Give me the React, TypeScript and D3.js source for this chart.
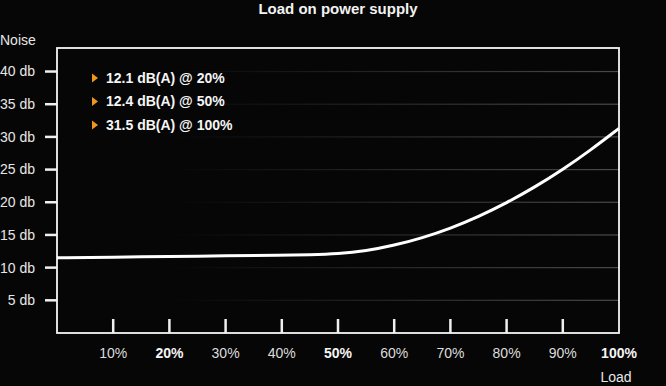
import * as d3 from "d3";

const loads = [0, 10, 20, 30, 40, 45, 50, 55, 60, 65, 70, 75, 80, 85, 90, 95, 100];
const noise = [11.5, 11.6, 11.7, 11.8, 11.9, 11.97, 12.1, 12.55, 13.4, 14.55, 16.0, 17.8, 19.9, 22.3, 25.0, 28.0, 31.3];
const xTicks = [10, 20, 30, 40, 50, 60, 70, 80, 90, 100];
const boldTicks = [20, 50, 100];
const yTicks = [5, 10, 15, 20, 25, 30, 35, 40];
const legendItems = ["12.1 dB(A) @ 20%", "12.4 dB(A) @ 50%", "31.5 dB(A) @ 100%"];

const W = 666;
const H = 386;
const MARGIN = { top: 48, right: 47, bottom: 53, left: 57 };
const FONT = "'Liberation Sans', Arial, Helvetica, sans-serif";

export default function App() {
  const x = d3.scaleLinear().domain([0, 100]).range([MARGIN.left, W - MARGIN.right]);
  const y = d3.scaleLinear().domain([0, 43.6]).range([H - MARGIN.bottom, MARGIN.top]);

  const line = d3
    .line<number>()
    .x((d, i) => x(loads[i]))
    .y((d) => y(d))
    .curve(d3.curveBasis);

  const x0 = MARGIN.left;
  const x1 = W - MARGIN.right;
  const y0 = H - MARGIN.bottom;
  const y1 = MARGIN.top;

  return (
    <svg
      width={W}
      height={H}
      style={{ position: "absolute", left: 0, top: 0, background: "#060606" }}
      fontFamily={FONT}
    >
      <defs>
        <linearGradient id="gridFade" x1="0" x2="1" y1="0" y2="0">
          <stop offset="0%" stopColor="#444" stopOpacity={0} />
          <stop offset="20%" stopColor="#444" stopOpacity={0} />
          <stop offset="100%" stopColor="#4a4a4a" stopOpacity={1} />
        </linearGradient>
      </defs>
      <rect width={W} height={H} fill="#060606" />

      <text x={W / 2 + 5} y={14} textAnchor="middle" fontSize={15} fontWeight={700} fill="#f2f2f2">
        Load on power supply
      </text>

      {/* grid */}
      {yTicks.map((t) => (
        <rect key={t} x={x0} y={y(t) - 0.6} width={x1 - x0} height={1.2} fill="url(#gridFade)" />
      ))}

      {/* y axis ticks */}
      {yTicks.map((t) => (
        <g key={"y" + t}>
          <line x1={x0 - 12} x2={x0} y1={y(t)} y2={y(t)} stroke="#f0f0f0" strokeWidth={2.5} />
          <text x={35} y={y(t)} dy="0.35em" textAnchor="end" fontSize={14} fill="#e6e6e6">
            {t} db
          </text>
        </g>
      ))}
      <text x={0} y={40} dy="0.35em" fontSize={14} fill="#e6e6e6">
        Noise
      </text>

      {/* x axis ticks */}
      {xTicks.map((t) => (
        <g key={"x" + t}>
          {t < 100 && <line x1={x(t)} x2={x(t)} y1={y0 - 14} y2={y0} stroke="#f0f0f0" strokeWidth={2.5} />}
          <text
            x={x(t)}
            y={353}
            dy="0.35em"
            textAnchor="middle"
            fontSize={14}
            fontWeight={boldTicks.includes(t) ? 700 : 400}
            fill={boldTicks.includes(t) ? "#f5f5f5" : "#dcdcdc"}
          >
            {t}%
          </text>
        </g>
      ))}
      <text x={616} y={377} dy="0.35em" textAnchor="middle" fontSize={14} fill="#e6e6e6">
        Load
      </text>

      {/* frame */}
      <rect x={x0} y={y1} width={x1 - x0} height={y0 - y1} fill="none" stroke="#f5f5f5" strokeWidth={1.8} />

      {/* curve */}
      <path d={line(noise) ?? ""} fill="none" stroke="#ffffff" strokeWidth={3} />

      {/* legend */}
      {legendItems.map((s, i) => (
        <g key={s} transform={`translate(92,${78 + i * 23.5})`}>
          <path d="M0,-4.5 L6,0 L0,4.5 Z" fill="#f0961e" />
          <text x={14} y={0} dy="0.35em" fontSize={14} fontWeight={700} fill="#f5f5f5">
            {s}
          </text>
        </g>
      ))}
    </svg>
  );
}
